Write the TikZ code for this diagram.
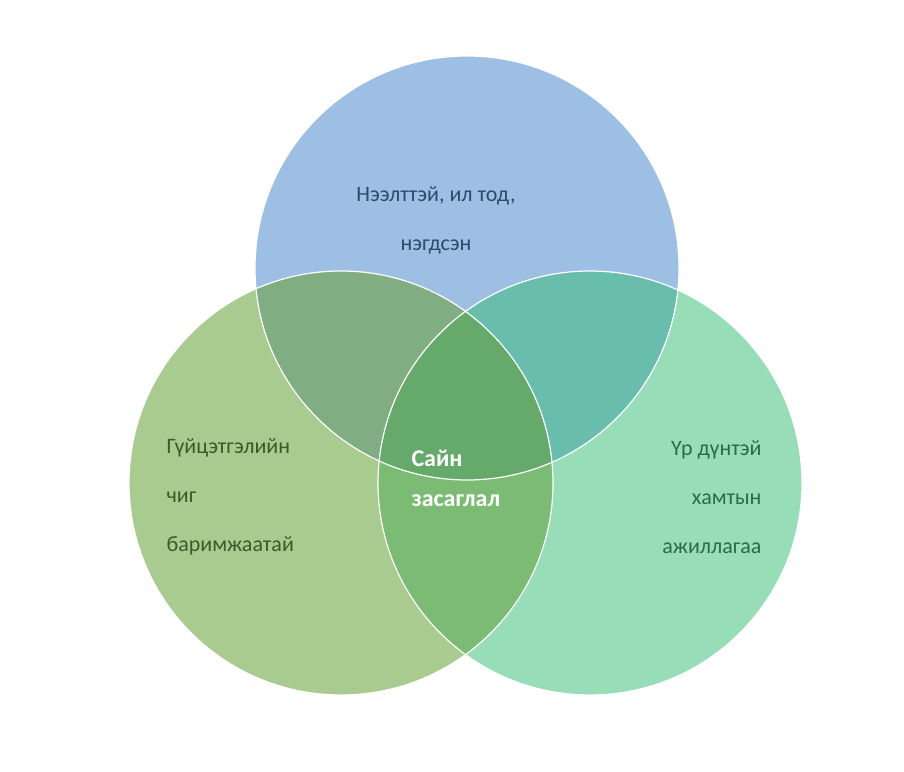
\documentclass[tikz,border=0pt]{standalone}
\usepackage{fontspec}
\setmainfont{Carlito}
\definecolor{cT}{HTML}{9DBFE3}
\definecolor{cL}{HTML}{A9CB8F}
\definecolor{cR}{HTML}{97DDB8}
\definecolor{cTL}{HTML}{80AE82}
\definecolor{cTR}{HTML}{69BDAD}
\definecolor{cLR}{HTML}{7BBB73}
\definecolor{cC}{HTML}{65AA6A}
\definecolor{tT}{HTML}{2F4A6B}
\definecolor{tL}{HTML}{3D5A2A}
\definecolor{tR}{HTML}{2E6A48}
\begin{document}
\begin{tikzpicture}[x=1pt,y=1pt,
  lbl/.style={font=\fontsize{22}{49}\selectfont},
  ring/.style={draw=white,line width=1.2pt}]
\useasboundingbox (0,0) rectangle (904,771);
\fill[white] (0,0) rectangle (904,771);
\coordinate (T) at (467,503);
\coordinate (L) at (341,288);
\coordinate (R) at (590,288);
\def\r{212}
\fill[cT] (T) circle (\r);
\fill[cL] (L) circle (\r);
\fill[cR] (R) circle (\r);
\begin{scope}\clip (T) circle (\r); \fill[cTL] (L) circle (\r); \fill[cTR] (R) circle (\r);\end{scope}
\begin{scope}\clip (L) circle (\r); \fill[cLR] (R) circle (\r);
  \clip (T) circle (\r); \fill[cC] (R) circle (\r);\end{scope}
\draw[ring] (T) circle (\r);
\draw[ring] (L) circle (\r);
\draw[ring] (R) circle (\r);
\node[lbl,text=tT,align=center] (tt) at (436,551) {Нээлттэй, ил тод,\\нэгдсэн};
\node[lbl,text=tL,align=left,anchor=west] (tl) at (163,274) {Гүйцэтгэлийн\\чиг\\баримжаатай};
\node[lbl,text=tR,align=right,anchor=east] (tr) at (765,274) {Үр дүнтэй\\хамтын\\ажиллагаа};
\node[lbl,text=white,font=\fontsize{24}{40}\selectfont\bfseries,align=left,anchor=west] (tc) at (408,293) {Сайн\\засаглал};
\end{tikzpicture}
\end{document}
